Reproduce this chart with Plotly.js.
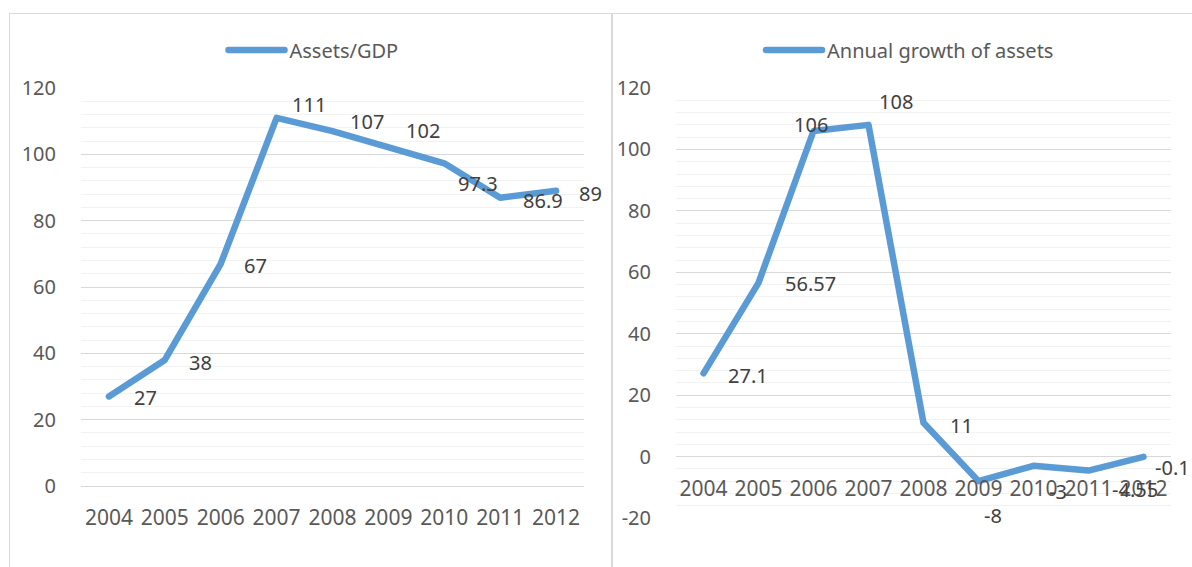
<!DOCTYPE html>
<html><head><meta charset="utf-8">
<script src="https://cdn.plot.ly/plotly-3.0.1.min.js"></script>
<style>
html,body{margin:0;padding:0;background:#fff;overflow:hidden;width:1192px;height:567px;}
.panel{position:absolute;top:13px;border:1px solid #d9d9d9;background:#fff;}
#p1{left:9px;width:601px;height:560px;}
#p2{left:612px;width:600px;height:560px;}
.js-line{stroke-linejoin:round !important;stroke-linecap:round !important;}
</style></head>
<body>
<div class="panel" id="p1"><div id="c1" style="width:601px;height:560px"></div></div>
<div class="panel" id="p2"><div id="c2" style="width:600px;height:560px"></div></div>
<script>
// ---- data ----
const years = ['2004','2005','2006','2007','2008','2009','2010','2011','2012'];
const assetsGdp = [27, 38, 67, 111, 107, 102, 97.3, 86.9, 89];
const annualGrowth = [27.1, 56.57, 106, 108, 11, -8, -3, -4.55, -0.1];
const seriesName1 = 'Assets/GDP';
const seriesName2 = 'Annual growth of assets';
const yTicks1 = [0, 20, 40, 60, 80, 100, 120];
const yTicks2 = [-20, 0, 20, 40, 60, 80, 100, 120];

// ---- label placement styles: [xanchor, xshift, yshift] ----
const labelStyle1 = [['left',24,-1],['left',23,-3],['left',22,-2],['left',14,13],['left',16,10],
                     ['left',17,17],['left',13,-20],['left',22,-3],['left',22,-3]];
const labelStyle2 = [['left',23,-2],['left',25,-1],['center',-3,7],['left',9,23],['left',25,-3],
                     ['center',14,-34],['left',14,-26],['left',22,-19],['left',10,-11]];
const FONT = 'Noto Sans, Open Sans, sans-serif';
const BLUE = '#5b9bd5';
const H = 560;

function makeLayout(W, range, ticks, margin, legendX) {
  return {
    width: W, height: H, autosize: false,
    margin: margin,
    paper_bgcolor: '#fff', plot_bgcolor: '#fff',
    font: {family: FONT, size: 20, color: '#595959'},
    showlegend: true,
    legend: {orientation: 'h', xref: 'container', x: legendX, xanchor: 'center',
             yref: 'container', y: 1 - 36 / H, yanchor: 'middle', itemwidth: 56,
             font: {family: FONT, size: 20, color: '#595959'}, bgcolor: 'rgba(0,0,0,0)'},
    xaxis: {type: 'category', range: [-0.5, years.length - 0.5], showgrid: false, zeroline: false,
            showline: false, ticks: 'outside', ticklen: 13, tickcolor: 'rgba(0,0,0,0)',
            tickfont: {family: FONT, size: 21, color: '#595959'}, fixedrange: true},
    yaxis: {range: range, tickvals: ticks, ticktext: ticks.map(String), showgrid: true,
            gridcolor: '#d9d9d9', gridwidth: 1, zeroline: true, zerolinecolor: '#d9d9d9', zerolinewidth: 1,
            showline: false, ticks: 'outside', ticklen: 20, tickcolor: 'rgba(0,0,0,0)',
            minor: {dtick: 4, tick0: 0, showgrid: true, gridcolor: '#f2f2f2', gridwidth: 1, ticks: ''},
            tickfont: {family: FONT, size: 20, color: '#595959'}, fixedrange: true},
    annotations: []
  };
}

function makeTrace(y, name) {
  return {
    type: 'scatter', mode: 'lines', x: years, y: y, name: name,
    line: {color: BLUE, width: 6.5},
    hoverinfo: 'skip'
  };
}

// category index is used as the annotation x (numeric-looking names would be read as serial numbers)
function makeLabels(y, style) {
  return y.map((v, i) => ({
    x: years.indexOf(years[i]), y: v, xref: 'x', yref: 'y', text: String(v), showarrow: false,
    xanchor: style[i][0], yanchor: 'middle', xshift: style[i][1], yshift: style[i][2],
    borderpad: 0, font: {family: FONT, size: 20, color: '#404040'}
  }));
}

const range1 = [0, 120];
const layout1 = makeLayout(601, range1, yTicks1, {l: 71, r: 27, t: 74, b: 88}, 0.505);
layout1.annotations = makeLabels(assetsGdp, labelStyle1);
Plotly.newPlot('c1', [makeTrace(assetsGdp, seriesName1)], layout1, {staticPlot: true, displayModeBar: false});

const range2 = [-20, 120];
const layout2 = makeLayout(600, range2, yTicks2, {l: 63, r: 42, t: 74, b: 56}, 0.495);
layout2.xaxis.anchor = 'free';
layout2.xaxis.position = (0 - range2[0]) / (range2[1] - range2[0]);
layout2.annotations = makeLabels(annualGrowth, labelStyle2);
Plotly.newPlot('c2', [makeTrace(annualGrowth, seriesName2)], layout2, {staticPlot: true, displayModeBar: false});
</script>
</body></html>
